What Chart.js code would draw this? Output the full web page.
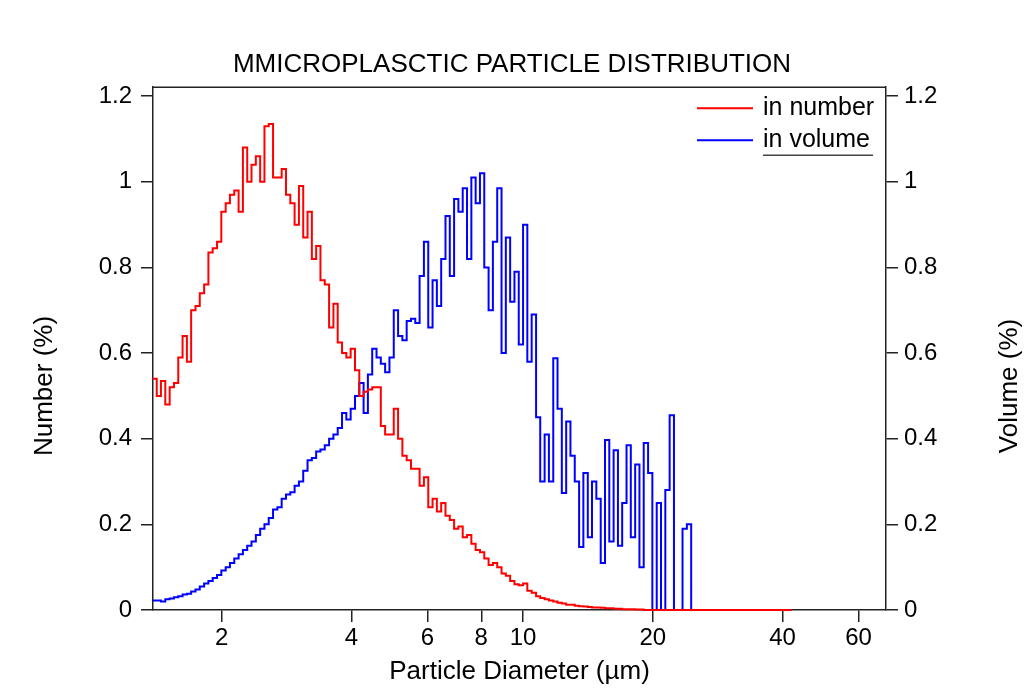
<!DOCTYPE html>
<html>
<head>
<meta charset="utf-8">
<script src="https://cdn.jsdelivr.net/npm/chart.js@4.4.0/dist/chart.umd.min.js"></script>
<style>
  html, body { margin: 0; padding: 0; background: #fff; }
  #wrap { width: 1024px; height: 690px; }
</style>
</head>
<body>
<div id="wrap"><canvas id="psd" width="1024" height="690"></canvas></div>
<script>
// bin diameters (µm), last one closes the zero tail
const diameters = [
  1.380, 1.413, 1.445, 1.479, 1.514, 1.549, 1.585, 1.622, 1.660, 1.698,
  1.738, 1.778, 1.820, 1.862, 1.905, 1.950, 1.995, 2.042, 2.089, 2.138,
  2.188, 2.239, 2.291, 2.344, 2.399, 2.455, 2.512, 2.570, 2.630, 2.692,
  2.754, 2.818, 2.884, 2.951, 3.020, 3.090, 3.162, 3.236, 3.311, 3.388,
  3.467, 3.548, 3.631, 3.715, 3.802, 3.890, 3.981, 4.074, 4.169, 4.266,
  4.365, 4.467, 4.571, 4.677, 4.786, 4.898, 5.012, 5.129, 5.248, 5.370,
  5.495, 5.623, 5.754, 5.888, 6.026, 6.166, 6.310, 6.457, 6.607, 6.761,
  6.918, 7.079, 7.244, 7.413, 7.586, 7.762, 7.943, 8.128, 8.318, 8.511,
  8.710, 8.913, 9.120, 9.333, 9.550, 9.772, 10.00, 10.23, 10.47, 10.72,
  10.96, 11.22, 11.48, 11.75, 12.02, 12.30, 12.59, 12.88, 13.18, 13.49,
  13.80, 14.13, 14.45, 14.79, 15.14, 15.49, 15.85, 16.22, 16.60, 16.98,
  17.38, 17.78, 18.20, 18.62, 19.05, 19.50, 19.95, 20.42, 20.89, 21.38,
  21.88, 22.39, 22.91, 23.44, 23.99, 24.55, 25.12, 25.70, 26.30,
  41.9
];

// Number (%)
const inNumber = [
  0.54, 0.50, 0.535, 0.48, 0.52, 0.53, 0.59, 0.64, 0.58, 0.70,
  0.71, 0.74, 0.76, 0.835, 0.845, 0.86, 0.93, 0.95, 0.97, 0.98,
  0.93, 1.08, 1.00, 1.04, 1.06, 1.00, 1.13, 1.135, 1.01, 1.01,
  1.03, 0.97, 0.95, 0.90, 0.99, 0.87, 0.93, 0.82, 0.85, 0.77,
  0.76, 0.66, 0.715, 0.625, 0.60, 0.59, 0.61, 0.56, 0.50, 0.51,
  0.515, 0.52, 0.52, 0.43, 0.41, 0.41, 0.47, 0.40, 0.36, 0.35,
  0.33, 0.33, 0.29, 0.31, 0.24, 0.26, 0.23, 0.25, 0.22, 0.21,
  0.19, 0.195, 0.17, 0.175, 0.155, 0.14, 0.135, 0.12, 0.105, 0.11,
  0.10, 0.085, 0.08, 0.068, 0.06, 0.058, 0.062, 0.045, 0.04, 0.032,
  0.028, 0.025, 0.022, 0.02, 0.017, 0.015, 0.012, 0.012, 0.01, 0.009,
  0.008, 0.007, 0.006, 0.006, 0.005, 0.004, 0.004, 0.003, 0.003, 0.002,
  0.002, 0.002, 0.001, 0.001, 0, 0, 0, 0, 0, 0,
  0, 0, 0, 0, 0, 0, 0, 0, 0,
  0
];

// Volume (%)
const inVolume = [
  0.022, 0.022, 0.020, 0.025, 0.027, 0.030, 0.032, 0.036, 0.038, 0.043,
  0.048, 0.055, 0.062, 0.068, 0.075, 0.082, 0.092, 0.10, 0.11, 0.12,
  0.13, 0.14, 0.15, 0.16, 0.175, 0.19, 0.20, 0.215, 0.235, 0.24,
  0.26, 0.27, 0.275, 0.29, 0.30, 0.325, 0.35, 0.355, 0.37, 0.375,
  0.385, 0.40, 0.41, 0.425, 0.46, 0.445, 0.47, 0.50, 0.53, 0.46,
  0.55, 0.61, 0.59, 0.575, 0.555, 0.59, 0.70, 0.64, 0.63, 0.675,
  0.68, 0.67, 0.78, 0.86, 0.66, 0.77, 0.71, 0.82, 0.92, 0.78,
  0.96, 0.93, 0.985, 0.82, 1.01, 0.95, 1.02, 0.80, 0.70, 0.86,
  0.985, 0.60, 0.87, 0.72, 0.79, 0.62, 0.90, 0.58, 0.69, 0.45,
  0.30, 0.41, 0.30, 0.588, 0.47, 0.273, 0.44, 0.36, 0.30, 0.147,
  0.32, 0.17, 0.30, 0.26, 0.11, 0.397, 0.16, 0.373, 0.15, 0.25,
  0.385, 0.17, 0.34, 0.10, 0.39, 0.32, 0, 0.25, 0, 0.28,
  0.455, 0, 0, 0.19, 0.20, 0, 0, 0, 0,
  0
];

const xTicks = [2, 4, 6, 8, 10, 20, 40, 60];
const yTicks = [0, 0.2, 0.4, 0.6, 0.8, 1, 1.2];

const titleText = 'MMICROPLASCTIC PARTICLE DISTRIBUTION';
const xTitle = 'Particle Diameter (µm)';
const yLeftTitle = 'Number (%)';
const yRightTitle = 'Volume (%)';

const FONT = "'Liberation Sans', Arial, sans-serif";
const AXIS = '#222';

function toPoints(values) {
  return diameters.map((d, i) => ({ x: d, y: values[i] }));
}

// top frame, both axis titles (reading upwards) and the legend box
const extras = {
  id: 'extras',
  afterDraw(chart) {
    const { ctx, chartArea: a } = chart;
    ctx.save();
    ctx.strokeStyle = AXIS;
    ctx.lineWidth = 1.5;
    ctx.beginPath();
    ctx.moveTo(a.left, a.top);
    ctx.lineTo(a.right, a.top);
    ctx.stroke();

    ctx.fillStyle = '#000';
    ctx.font = '26px ' + FONT;
    ctx.textAlign = 'center';
    ctx.textBaseline = 'middle';
    [[45, yLeftTitle], [1010, yRightTitle]].forEach(([x, txt]) => {
      ctx.save();
      ctx.translate(x, 386);
      ctx.rotate(-Math.PI / 2);
      ctx.fillText(txt, 0, 0);
      ctx.restore();
    });

    ctx.font = '25px ' + FONT;
    ctx.textAlign = 'left';
    chart.data.datasets.forEach((ds, i) => {
      const y = a.top + 21 + i * 32;
      ctx.strokeStyle = ds.borderColor;
      ctx.lineWidth = 2;
      ctx.beginPath();
      ctx.moveTo(a.right - 189, y);
      ctx.lineTo(a.right - 133, y);
      ctx.stroke();
      ctx.fillText(ds.label, a.right - 123, y);
    });
    ctx.strokeStyle = '#444';
    ctx.lineWidth = 1.5;
    ctx.beginPath();
    ctx.moveTo(a.right - 123, a.top + 68);
    ctx.lineTo(a.right - 13, a.top + 68);
    ctx.stroke();
    ctx.restore();
  }
};

const tickFont = { family: FONT, size: 24 };

function yAxis(position, width, pad) {
  return {
    position: position,
    min: 0,
    max: 1.221,
    afterBuildTicks: s => { s.ticks = yTicks.map(v => ({ value: v })); },
    afterFit: s => { s.width = width; },
    ticks: { color: '#000', font: tickFont, padding: pad, callback: v => String(v) },
    grid: { drawOnChartArea: false, tickLength: 12, color: AXIS, lineWidth: 1.5 },
    border: { display: true, color: AXIS, width: 1.5 }
  };
}

new Chart(document.getElementById('psd'), {
  type: 'line',
  data: {
    datasets: [
      {
        label: 'in number',
        data: toPoints(inNumber),
        borderColor: '#ff0000',
        borderWidth: 2,
        pointRadius: 0,
        stepped: true,
        fill: false,
        clip: 3,
        yAxisID: 'y'
      },
      {
        label: 'in volume',
        data: toPoints(inVolume),
        borderColor: '#0000ff',
        borderWidth: 2,
        pointRadius: 0,
        stepped: true,
        fill: false,
        clip: 3,
        yAxisID: 'y2'
      }
    ]
  },
  options: {
    responsive: false,
    animation: false,
    layout: { padding: 0 },
    plugins: {
      legend: { display: false },
      tooltip: { enabled: false },
      title: {
        display: true,
        text: titleText,
        color: '#000',
        font: { family: FONT, size: 26, weight: 'normal' },
        padding: { top: 49, bottom: 7 }
      }
    },
    scales: {
      x: {
        type: 'logarithmic',
        min: 1.385,
        max: 69.5,
        afterBuildTicks: s => { s.ticks = xTicks.map(v => ({ value: v })); },
        afterFit: s => { s.height = 80; },
        ticks: {
          color: '#000',
          font: tickFont,
          padding: 2,
          autoSkip: false,
          maxRotation: 0,
          callback: v => String(v)
        },
        grid: { drawOnChartArea: false, tickLength: 12, color: AXIS, lineWidth: 1.5 },
        border: { display: true, color: AXIS, width: 1.5 },
        title: {
          display: true,
          text: xTitle,
          color: '#000',
          font: { family: FONT, size: 26 },
          padding: { top: 0, bottom: 3 }
        }
      },
      y: yAxis('left', 153, 9),
      y2: yAxis('right', 1024 - 886, 6)
    }
  },
  plugins: [extras]
});
</script>
</body>
</html>
